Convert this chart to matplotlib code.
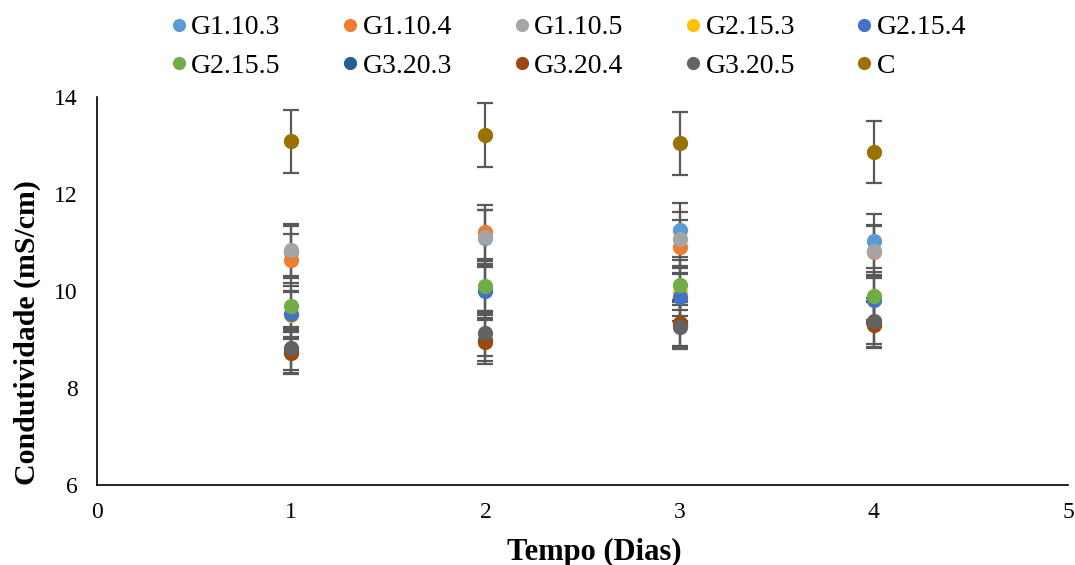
import matplotlib
matplotlib.use("Agg")
import matplotlib.pyplot as plt
from matplotlib.lines import Line2D

plt.rcParams['font.family'] = ['Liberation Serif', 'DejaVu Serif']

days = [1, 2, 3, 4]
series_names = ["G1.10.3", "G1.10.4", "G1.10.5", "G2.15.3", "G2.15.4",
                "G2.15.5", "G3.20.3", "G3.20.4", "G3.20.5", "C"]
colors = ["#5B9BD5", "#ED7D31", "#A5A5A5", "#FFC000", "#4472C4",
          "#70AD47", "#255E91", "#9E480E", "#636363", "#997300"]

g1_10_3 = [10.80, 11.10, 11.26, 11.03]
g1_10_4 = [10.64, 11.22, 10.91, 10.80]
g1_10_5 = [10.85, 11.11, 11.07, 10.82]
g2_15_3 = [9.50, 10.05, 9.98, 9.85]
g2_15_4 = [9.53, 10.00, 9.88, 9.81]
g2_15_5 = [9.69, 10.10, 10.12, 9.90]
g3_20_3 = [8.75, 9.00, 9.30, 9.32]
g3_20_4 = [8.72, 8.95, 9.34, 9.30]
g3_20_5 = [8.82, 9.13, 9.26, 9.38]
c_vals = [13.09, 13.22, 13.05, 12.87]

e1_10_3 = [0.54, 0.56, 0.56, 0.55]
e1_10_4 = [0.53, 0.56, 0.55, 0.54]
e1_10_5 = [0.54, 0.56, 0.55, 0.54]
e2_15_3 = [0.48, 0.50, 0.50, 0.49]
e2_15_4 = [0.48, 0.50, 0.49, 0.49]
e2_15_5 = [0.48, 0.51, 0.51, 0.50]
e3_20_3 = [0.44, 0.45, 0.47, 0.47]
e3_20_4 = [0.44, 0.45, 0.47, 0.47]
e3_20_5 = [0.44, 0.46, 0.46, 0.47]
e_c = [0.65, 0.66, 0.65, 0.64]

values = [g1_10_3, g1_10_4, g1_10_5, g2_15_3, g2_15_4,
          g2_15_5, g3_20_3, g3_20_4, g3_20_5, c_vals]
errors = [e1_10_3, e1_10_4, e1_10_5, e2_15_3, e2_15_4,
          e2_15_5, e3_20_3, e3_20_4, e3_20_5, e_c]

fig = plt.figure(figsize=(10.75, 5.65), dpi=100)
ax = fig.add_axes([97/1075, 1 - 485/565, (1068-97)/1075, (485-97)/565])

for name, col, v, e in zip(series_names, colors, values, errors):
    ax.errorbar(days, v, yerr=e, fmt='none', ecolor='#595959',
                elinewidth=1.6, capsize=5.5, capthick=1.6)
for name, col, v in zip(series_names, colors, values):
    ax.plot(days, v, 'o', color=col, markersize=11, markeredgewidth=0,
            label=name, zorder=3)

ax.set_xlim(0, 5)
ax.set_ylim(6, 14)
ax.set_xticks([0, 1, 2, 3, 4, 5])
ax.set_yticks([6, 8, 10, 12, 14])
ax.tick_params(length=0, labelsize=17)
ax.tick_params(axis='y', pad=14)
ax.tick_params(axis='x', pad=12)
for s in ['top', 'right']:
    ax.spines[s].set_visible(False)
for s in ['left', 'bottom']:
    ax.spines[s].set_color('black')
    ax.spines[s].set_linewidth(1.2)

ax.set_xlabel("Tempo (Dias)", fontsize=22, fontweight='bold')
ax.set_ylabel("Condutividade (mS/cm)", fontsize=21.5, fontweight='bold',
              ha='center', va='center')
ax.xaxis.set_label_coords((594 - 97) / 971, (485 - 538) / 388)
ax.yaxis.set_label_coords((27 - 97) / 971, (485 - 333) / 388)

handles = [Line2D([0], [0], marker='o', linestyle='', color=c, markersize=9.5,
                  markeredgewidth=0) for c in colors]
order = [0, 5, 1, 6, 2, 7, 3, 8, 4, 9]
fig.legend([handles[i] for i in order], [series_names[i] for i in order],
           loc='center', ncol=5,
           bbox_to_anchor=(567/1075, 1 - 47/565), frameon=False,
           fontsize=20, handletextpad=0.05, columnspacing=2.1,
           handlelength=0.8, labelspacing=0.48)

fig.savefig("out.png", dpi=100)
